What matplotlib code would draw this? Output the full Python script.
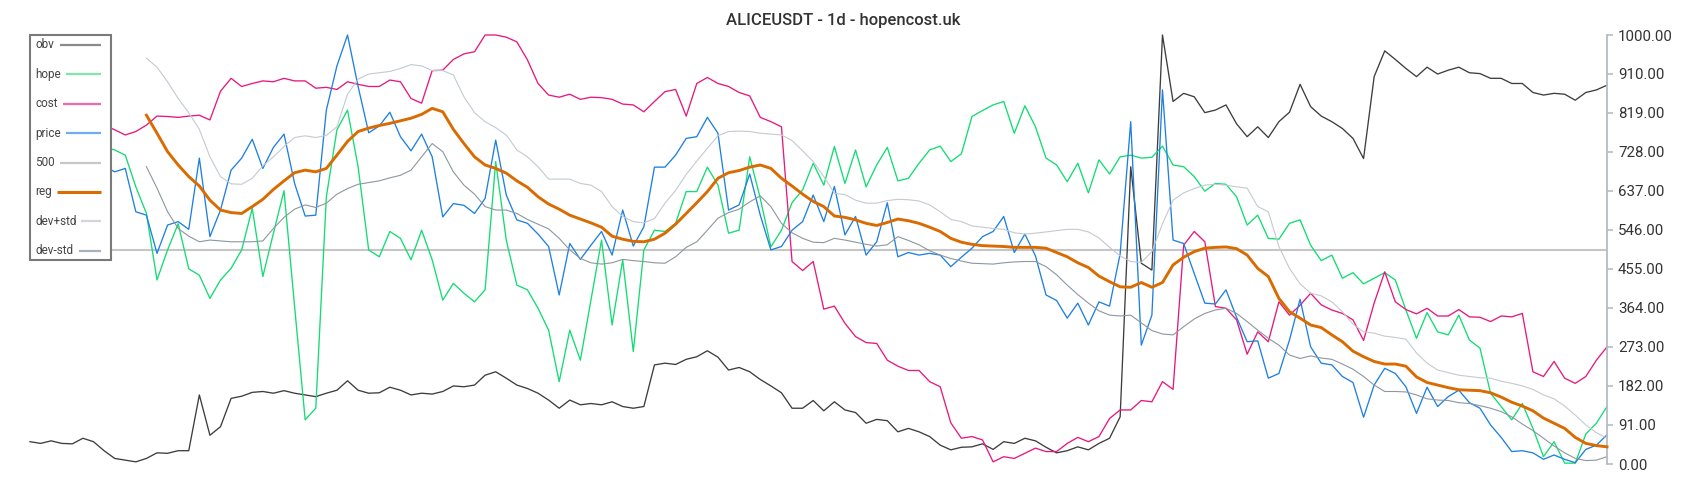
import numpy as np
import matplotlib
matplotlib.use("Agg")
import matplotlib.pyplot as plt
from matplotlib.lines import Line2D
from matplotlib.patches import Rectangle

plt.rcParams['font.family'] = ['Roboto', 'DejaVu Sans']

title = "ALICEUSDT - 1d - hopencost.uk"
labels = ["obv", "hope", "cost", "price", "500", "reg", "dev+std", "dev-std"]
yticks = [0, 91, 182, 273, 364, 455, 546, 637, 728, 819, 910, 1000]

obv = [52, 48, 54, 48, 47, 60, 52, 31, 13, 9,
       5, 13, 26, 25, 31, 31, 161, 67, 87, 153,
       158, 167, 169, 165, 171, 165, 161, 157, 165, 172,
       194, 172, 165, 166, 179, 172, 161, 165, 163, 169,
       182, 180, 184, 207, 215, 200, 184, 176, 165, 149,
       130, 149, 138, 141, 138, 145, 134, 130, 134, 231,
       235, 232, 244, 250, 264, 249, 219, 225, 215, 197,
       182, 166, 130, 130, 148, 124, 145, 126, 120, 95,
       104, 101, 75, 83, 75, 64, 44, 33, 39, 40,
       47, 34, 52, 48, 60, 54, 39, 26, 31, 40,
       33, 48, 60, 110, 693, 468, 452, 1000, 845, 864,
       856, 819, 825, 837, 793, 763, 786, 761, 798, 820,
       885, 833, 811, 798, 782, 759, 712, 903, 963, 943,
       922, 903, 925, 909, 918, 925, 912, 910, 899, 899,
       887, 887, 866, 860, 864, 862, 848, 866, 872, 883]

hope = [720, 735, 700, 725, 740, 730, 745, 738, 732, 720,
        646, 584, 429, 499, 560, 455, 440, 386, 429, 456,
        499, 596, 437, 538, 637, 367, 103, 130, 623, 779,
        825, 693, 499, 483, 542, 526, 476, 545, 476, 382,
        421, 398, 378, 406, 705, 522, 417, 406, 363, 312,
        192, 312, 242, 382, 522, 324, 476, 262, 499, 545,
        542, 561, 635, 635, 692, 650, 538, 545, 716, 619,
        506, 545, 609, 639, 701, 650, 740, 654, 732, 646,
        697, 738, 660, 666, 701, 732, 741, 705, 723, 810,
        824, 837, 845, 771, 835, 786, 713, 697, 658, 701,
        632, 709, 676, 716, 720, 713, 715, 741, 697, 693,
        670, 636, 654, 652, 623, 557, 580, 526, 524, 561,
        569, 510, 474, 487, 433, 446, 420, 433, 446, 429,
        359, 293, 353, 308, 301, 347, 289, 270, 165, 134,
        103, 141, 83, 17, 52, 2, 2, 70, 95, 134]

cost = [790, 785, 795, 775, 790, 800, 795, 790, 779, 767,
        775, 790, 811, 810, 808, 811, 813, 802, 869, 899,
        880, 887, 893, 891, 899, 893, 893, 876, 878, 873,
        891, 885, 880, 880, 895, 891, 852, 841, 917, 918,
        943, 956, 961, 1000, 1000, 995, 984, 942, 887, 860,
        855, 862, 850, 855, 854, 850, 839, 837, 821, 845,
        868, 873, 811, 887, 901, 887, 880, 866, 858, 808,
        798, 786, 472, 451, 472, 361, 368, 328, 297, 283,
        281, 242, 228, 218, 218, 192, 180, 96, 60, 64,
        56, 5, 17, 13, 25, 37, 29, 29, 48, 62,
        52, 64, 106, 126, 126, 148, 145, 192, 174, 510,
        542, 518, 367, 363, 336, 256, 308, 285, 378, 347,
        370, 398, 371, 359, 351, 336, 288, 375, 448, 378,
        360, 350, 363, 345, 345, 360, 343, 342, 332, 345,
        343, 351, 215, 204, 239, 200, 188, 204, 242, 273]

price = [690, 700, 680, 695, 705, 690, 700, 695, 681, 689,
         588, 580, 491, 557, 565, 547, 713, 530, 592, 685,
         713, 757, 689, 738, 769, 654, 578, 580, 825, 928,
         1000, 880, 772, 788, 820, 763, 730, 769, 716, 576,
         607, 603, 584, 619, 755, 627, 569, 561, 536, 507,
         394, 514, 477, 510, 542, 487, 592, 508, 553, 692,
         692, 720, 759, 763, 808, 771, 592, 604, 676, 580,
         499, 507, 545, 565, 627, 565, 647, 534, 577, 487,
         518, 609, 483, 493, 487, 491, 487, 460, 482, 503,
         530, 542, 577, 493, 536, 485, 394, 381, 340, 375,
         324, 378, 368, 490, 798, 277, 347, 872, 522, 514,
         444, 375, 373, 406, 342, 285, 287, 200, 211, 289,
         384, 273, 235, 231, 204, 190, 109, 184, 223, 211,
         180, 118, 179, 134, 157, 172, 143, 130, 91, 62,
         29, 31, 26, 11, 21, 11, 3, 34, 44, 68]

level_500 = 500
band_start = 11

reg = [813, 771, 728, 697, 670, 648, 615, 592, 586,
       584, 600, 617, 640, 660, 679, 685, 681, 689, 720,
       752, 775, 783, 789, 794, 800, 806, 815, 829, 821,
       780, 747, 716, 697, 689, 678, 660, 645, 623, 606,
       594, 580, 571, 562, 552, 531, 524, 519, 518, 524,
       538, 559, 584, 609, 635, 666, 679, 684, 692, 697,
       689, 666, 648, 629, 612, 600, 578, 575, 569, 561,
       556, 563, 571, 567, 561, 552, 542, 526, 517, 512,
       509, 508, 507, 505, 505, 505, 503, 493, 483, 469,
       458, 438, 425, 413, 412, 423, 412, 423, 464, 482,
       495, 503, 505, 506, 502, 487, 456, 437, 386, 355,
       340, 324, 318, 301, 285, 263, 250, 239, 233, 233,
       228, 203, 190, 184, 178, 173, 172, 171, 166, 156,
       144, 135, 124, 107, 95, 83, 62, 48, 43, 40]

dev_plus = [946, 925, 891, 852, 819, 780, 716, 670, 653,
            652, 666, 695, 716, 740, 761, 765, 761, 766, 786,
            862, 897, 909, 912, 915, 922, 931, 928, 917, 917,
            907, 856, 819, 798, 784, 767, 732, 716, 693, 664,
            664, 664, 654, 650, 635, 600, 577, 565, 562, 572,
            608, 638, 675, 706, 736, 765, 775, 776, 775, 771,
            769, 767, 754, 730, 705, 670, 631, 628, 615, 608,
            608, 614, 617, 616, 613, 604, 588, 570, 565, 555,
            552, 549, 547, 539, 536, 538, 541, 544, 547, 547,
            541, 527, 505, 485, 472, 470, 495, 560, 615, 632,
            642, 650, 652, 650, 646, 643, 600, 588, 507, 456,
            420, 398, 392, 378, 355, 326, 308, 305, 298, 295,
            291, 259, 235, 219, 213, 207, 204, 201, 200, 193,
            188, 182, 174, 161, 152, 135, 114, 91, 73, 60]

dev_minus = [693, 643, 588, 549, 531, 518, 522, 520, 518,
             518, 518, 520, 549, 575, 594, 604, 598, 608, 629,
             642, 652, 656, 660, 667, 673, 685, 716, 747, 728,
             681, 650, 629, 600, 592, 592, 584, 570, 559, 548,
             526, 499, 479, 469, 466, 469, 477, 474, 472, 469,
             468, 483, 505, 518, 545, 573, 586, 594, 611, 625,
             600, 561, 539, 526, 517, 516, 526, 522, 517, 512,
             508, 511, 530, 521, 511, 497, 487, 479, 473, 468,
             467, 466, 469, 471, 472, 472, 460, 441, 417, 395,
             375, 357, 347, 345, 347, 329, 311, 303, 301, 320,
             338, 351, 359, 363, 351, 332, 312, 293, 277, 254,
             246, 252, 247, 244, 233, 221, 204, 184, 169, 169,
             168, 161, 152, 149, 148, 143, 141, 136, 130, 122,
             110, 93, 78, 60, 42, 26, 13, 8, 9, 17]

colors = {
    "obv": "#3d3d3d", "hope": "#12dc72", "cost": "#e6197d", "price": "#1f80e0",
    "500": "#c6c6c6", "reg": "#d96b00", "dev+std": "#c3cad0", "dev-std": "#8d979f",
}
legend_colors = ["#8a8a8a", "#7fe8a8", "#ef6aaa", "#6caef0", "#c8c8c8", "#d96b00", "#d2d6da", "#a9b2ba"]

W, H = 1700, 500
fig = plt.figure(figsize=(W / 100, H / 100), dpi=100)
x0, x1 = 30, 1607
ytop, ybot = 35, 464
ax = fig.add_axes([x0 / W, 1 - ybot / H, (x1 - x0) / W, (ybot - ytop) / H])

n = len(obv)
x = np.arange(n)
xb = np.arange(band_start, band_start + len(reg))

ax.plot(x, obv, color=colors["obv"], lw=0.95, clip_on=False, zorder=2)
ax.plot(x, hope, color=colors["hope"], lw=0.95, clip_on=False, zorder=2)
ax.plot(x, cost, color=colors["cost"], lw=0.95, clip_on=False, zorder=2)
ax.plot(x, price, color=colors["price"], lw=0.95, clip_on=False, zorder=2)
ax.axhline(level_500, color=colors["500"], lw=1.5, zorder=1.5)
ax.plot(xb, reg, color=colors["reg"], lw=2.1, clip_on=False, zorder=3)
ax.plot(xb, dev_plus, color=colors["dev+std"], lw=0.8, clip_on=False, zorder=2)
ax.plot(xb, dev_minus, color=colors["dev-std"], lw=0.8, clip_on=False, zorder=2)

ax.set_xlim(0, n - 1)
ax.set_ylim(0, 1000)
for s in ["left", "top", "bottom"]:
    ax.spines[s].set_visible(False)
ax.spines["right"].set_color("#b4bcc4")
ax.spines["right"].set_linewidth(1.3)
ax.set_xticks([])
ax.yaxis.tick_right()
ax.set_yticks(yticks)
ax.set_yticklabels([f"{v:.2f}" for v in yticks])
ax.tick_params(axis="y", direction="out", length=4, width=1.2, color="#b4bcc4",
               labelsize=10.8, labelcolor="#333333", pad=4)
ax.patch.set_alpha(0)

fig.text(843 / W, 1 - 20 / H, title, ha="center", va="center", fontsize=12,
         fontweight=500, color="#333333")

# legend box
lx0, lx1, ly0, ly1 = 30, 111, 35, 260
fig.add_artist(Rectangle((lx0 / W, 1 - ly1 / H), (lx1 - lx0) / W, (ly1 - ly0) / H,
                         transform=fig.transFigure, facecolor="white", edgecolor="#7a7a7a",
                         lw=1.5, zorder=10))
handle_start = [60, 66, 63, 66, 60, 57, 81, 79]
for i, lab in enumerate(labels):
    yy = 1 - (45 + 29.4 * i) / H
    fig.text(35 / W, yy, lab, ha="left", va="center", fontsize=8.5, color="#444444", zorder=11)
    lw = 2.2 if lab == "reg" else 1.6
    fig.add_artist(Line2D([handle_start[i] / W, 101 / W], [yy, yy], transform=fig.transFigure,
                          color=legend_colors[i], lw=lw, zorder=11, solid_capstyle="butt"))

fig.savefig("out.png", dpi=100)
